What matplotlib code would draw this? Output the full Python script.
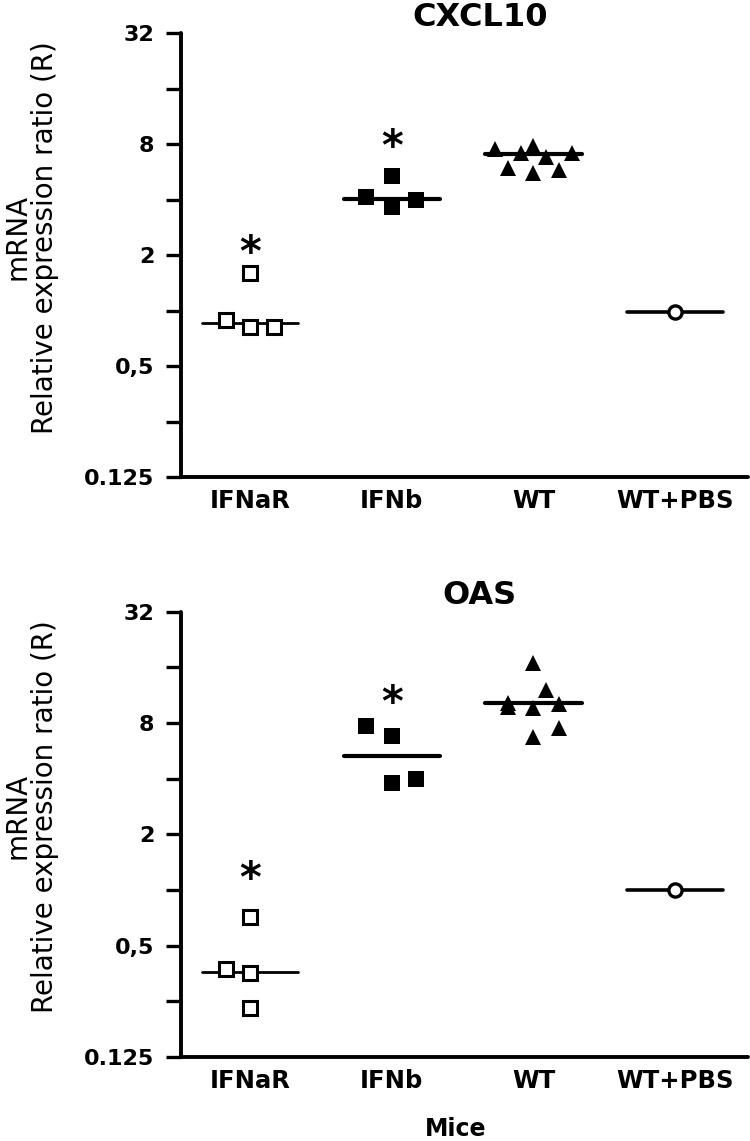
import matplotlib
matplotlib.use('Agg')
import matplotlib.pyplot as plt
from matplotlib.ticker import FixedLocator, NullFormatter

plt.rcParams['font.family'] = ['DejaVu Sans']

groups = ['IFNaR', 'IFNb', 'WT', 'WT+PBS']
y_ticks = [0.125, 0.5, 2, 8, 32]
y_tick_labels = ['0.125', '0,5', '2', '8', '32']
y_minor = [0.25, 1, 4, 16]

# CXCL10 (upper panel)
cxcl10_ifnar = [0.885, 0.81, 0.81, 1.59]
cxcl10_ifnb = [4.12, 5.36, 3.64, 3.97]
cxcl10_wt = [7.51, 7.14, 7.79, 6.79, 7.14, 5.92, 5.56, 5.77]
cxcl10_pbs = [0.98]
cxcl10_median = [0.856, 4.02, 7.05, 0.98]
cxcl10_star = [2.21, 8.29, None, None]

# OAS (lower panel)
oas_ifnar = [0.715, 0.374, 0.356, 0.230]
oas_ifnb = [7.70, 6.80, 3.79, 3.98]
oas_wt = [16.85, 12.05, 10.3, 9.8, 9.63, 10.12, 6.71, 7.51]
oas_pbs = [1.0]
oas_median = [0.360, 5.30, 10.25, 1.0]
oas_star = [1.235, 11.0, None, None]

# horizontal jitter of the dots inside each group
cxcl10_offsets = [[-0.17, 0, 0.17, 0],
                  [-0.18, 0, 0, 0.17],
                  [-0.27, -0.09, 0, 0.09, 0.27, -0.18, 0, 0.18],
                  [0]]
oas_offsets = [[0, -0.17, 0, 0],
               [-0.18, 0, 0, 0.17],
               [0, 0.09, -0.18, -0.18, 0, 0.18, 0, 0.18],
               [0]]


def draw_panel(ax, title, series, offsets, medians, stars, xlabel=None):
    styles = [dict(marker='s', ms=9.5, mfc='white', mec='black', mew=2.2),
              dict(marker='s', ms=11, mfc='black', mec='black', mew=0),
              dict(marker='^', ms=12, mfc='black', mec='black', mew=0),
              dict(marker='o', ms=9.5, mfc='white', mec='black', mew=2.4)]
    line_w = [2.0, 3.0, 3.0, 2.6]
    for i, vals in enumerate(series):
        ax.plot([i - 0.34, i + 0.34], [medians[i]] * 2, color='black',
                lw=line_w[i], solid_capstyle='round', zorder=2)
        xs = [i + o for o in offsets[i]]
        ax.plot(xs, vals, ls='none', zorder=3, clip_on=False, **styles[i])
        if stars[i] is not None:
            ax.annotate('*', (i, stars[i]), xytext=(0, -5),
                        textcoords='offset points', fontsize=30,
                        fontweight='bold', ha='center', va='center', zorder=4)

    ax.set_yscale('log', base=2)
    ax.set_ylim(0.125, 32)
    ax.set_xlim(-0.487, 3.514)
    ax.yaxis.set_major_locator(FixedLocator(y_ticks))
    ax.set_yticklabels(y_tick_labels)
    ax.yaxis.set_minor_locator(FixedLocator(y_minor))
    ax.yaxis.set_minor_formatter(NullFormatter())
    ax.tick_params(axis='y', which='both', length=11, width=2.4, pad=8,
                   labelsize=16)
    for lab in ax.get_yticklabels():
        lab.set_fontweight('bold')

    ax.set_xticks(range(len(groups)))
    ax.set_xticklabels(groups, fontsize=17.5, fontweight='bold')
    ax.tick_params(axis='x', length=0, pad=9)

    for side in ['top', 'right']:
        ax.spines[side].set_visible(False)
    for side in ['left', 'bottom']:
        ax.spines[side].set_linewidth(2.8)
        ax.spines[side].set_capstyle('round')

    ax.set_title(title, fontsize=23, fontweight='bold', x=0.527, pad=4)
    ax.set_ylabel('mRNA\nRelative expression ratio (R)', fontsize=20,
                  linespacing=1.0, multialignment='center')
    ax.yaxis.set_label_coords(-0.215, 0.54)
    if xlabel:
        ax.set_xlabel(xlabel, fontsize=17, fontweight='bold')
        ax.xaxis.set_label_coords(0.485, -0.135)


fig = plt.figure(figsize=(7.5, 11.41), dpi=100)
ax1 = fig.add_axes([181 / 750, 1 - 477 / 1141, 567 / 750, 444 / 1141])
ax2 = fig.add_axes([181 / 750, 1 - 1057 / 1141, 567 / 750, 445.5 / 1141])

draw_panel(ax1, 'CXCL10',
           [cxcl10_ifnar, cxcl10_ifnb, cxcl10_wt, cxcl10_pbs],
           cxcl10_offsets, cxcl10_median, cxcl10_star)
draw_panel(ax2, 'OAS',
           [oas_ifnar, oas_ifnb, oas_wt, oas_pbs],
           oas_offsets, oas_median, oas_star, xlabel='Mice')

fig.savefig('out.png', dpi=100)
